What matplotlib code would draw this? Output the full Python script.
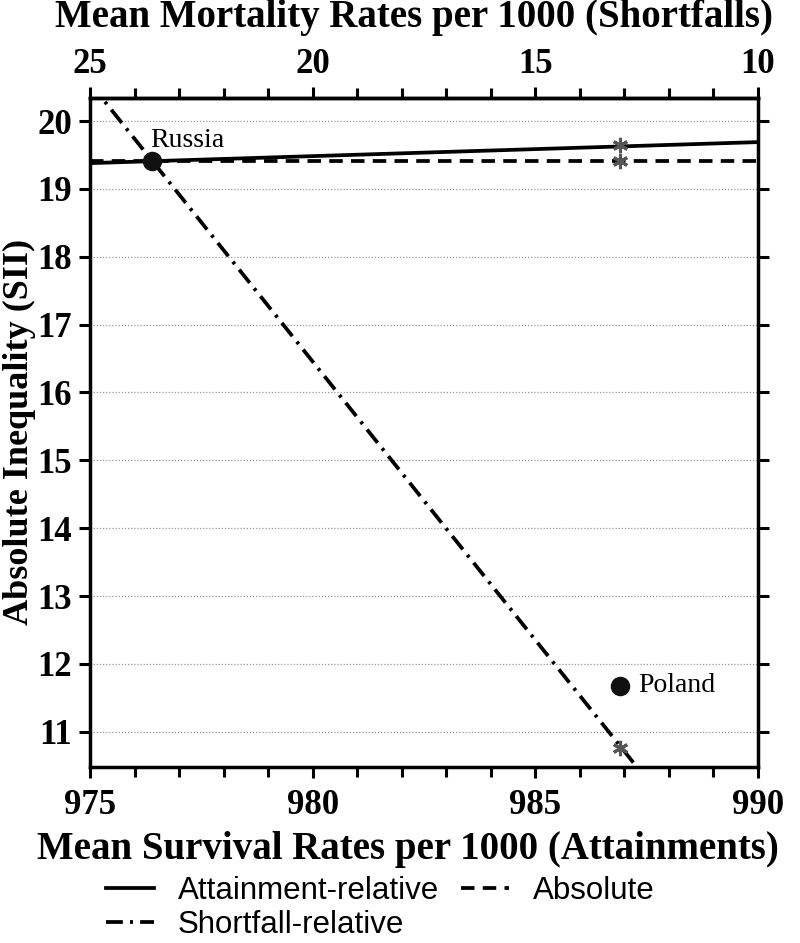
import matplotlib
matplotlib.use("Agg")
import matplotlib.pyplot as plt
from matplotlib.ticker import MultipleLocator, FixedLocator

# Data
line_x = [975, 990]
attainment_relative = [19.38, 19.69]
absolute = [19.41, 19.41]
shortfall_x = [975, 987.5]
shortfall_relative = [20.56, 10.3]

star_x = [986.9, 986.9, 986.9]
star_y = [19.64, 19.41, 10.76]

countries = ["Russia", "Poland"]
country_x = [976.4, 986.9]
country_y = [19.41, 11.68]

x_ticks = [975, 980, 985, 990]
y_ticks = [11, 12, 13, 14, 15, 16, 17, 18, 19, 20]
top_tick_labels = ["25", "20", "15", "10"]

serif = "Liberation Serif"
sans = "Liberation Sans"
W, H = 800, 943

fig = plt.figure(figsize=(8, 9.43), dpi=100)
ax = fig.add_axes([90 / W, 1 - 767 / H, 668 / W, (767 - 98) / H])

ax.set_xlim(975, 990)
ax.set_ylim(10.48, 20.34)

for y in y_ticks:
    ax.axhline(y, color="#999999", lw=0.9, ls=(0, (1, 1.5)), zorder=0)

lw = 2.7
l1, = ax.plot(line_x, attainment_relative, color="black", lw=lw, ls="-", label="Attainment-relative")
l2, = ax.plot(line_x, absolute, color="black", lw=lw, ls=(0, (3.6, 2.2)), label="Absolute")
l3, = ax.plot(shortfall_x, shortfall_relative, color="black", lw=lw, ls=(0, (4.5, 1.9, 0.8, 1.9)),
              label="Shortfall-relative")

ax.plot(star_x, star_y, ls="none", marker=(6, 2, 0), ms=11, mew=2.2, color="#555555", zorder=4)
ax.scatter(country_x, country_y, s=170, color="#111111", zorder=5)
ax.text(country_x[0] - 0.05, country_y[0] + 0.3, countries[0], family=serif, fontsize=20,
        ha="left", va="center")
ax.text(country_x[1] + 0.4, country_y[1], countries[1], family=serif, fontsize=20,
        ha="left", va="center")

for s in ax.spines.values():
    s.set_linewidth(2.5)

ax.xaxis.set_major_locator(FixedLocator(x_ticks))
ax.xaxis.set_minor_locator(MultipleLocator(1))
ax.yaxis.set_major_locator(FixedLocator(y_ticks))
ax.tick_params(axis="both", which="major", direction="out", length=8, width=2.2, labelsize=25)
ax.tick_params(axis="x", which="minor", direction="out", length=7, width=2.2)
ax.tick_params(axis="y", right=True, which="major", pad=5)
ax.tick_params(axis="x", which="both", pad=8)

for lab in ax.get_xticklabels() + ax.get_yticklabels():
    lab.set_family(serif)
    lab.set_fontweight("bold")

top = ax.secondary_xaxis("top")
top.xaxis.set_major_locator(FixedLocator(x_ticks))
top.set_xticklabels(top_tick_labels)
top.xaxis.set_minor_locator(MultipleLocator(1))
top.tick_params(which="major", direction="out", length=8, width=2.2, labelsize=25, pad=4)
top.tick_params(which="minor", direction="out", length=7, width=2.2)
top.spines["top"].set_linewidth(2.5)
for lab in top.get_xticklabels():
    lab.set_family(serif)
    lab.set_fontweight("bold")

fig.text(414 / W, 1 - 18 / H, "Mean Mortality Rates per 1000 (Shortfalls)", family=serif,
         fontweight="bold", fontsize=28, ha="center", va="center")
fig.text(408 / W, 1 - 849 / H, "Mean Survival Rates per 1000 (Attainments)", family=serif,
         fontweight="bold", fontsize=28, ha="center", va="center")
fig.text(19 / W, 1 - 432 / H, "Absolute Inequality (SII)", family=serif,
         fontweight="bold", fontsize=26, ha="center", va="center", rotation=90)

leg = fig.legend(handles=[l1, l3, l2], loc="upper left", bbox_to_anchor=(106 / W, 1 - 876 / H), ncol=2,
                 frameon=False, prop={"family": sans, "size": 22.5}, handlelength=1.55,
                 columnspacing=0.7, handletextpad=0.75, labelspacing=0.12, borderpad=0,
                 borderaxespad=0)

fig.savefig("out.png", dpi=100)
